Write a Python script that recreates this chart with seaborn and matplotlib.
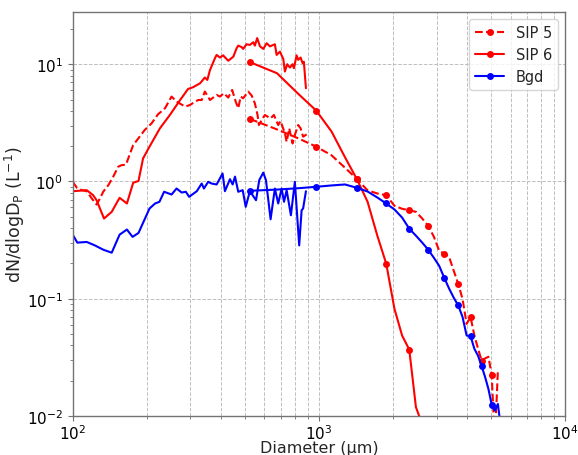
import numpy as np
import matplotlib
matplotlib.use("Agg")
import matplotlib.pyplot as plt
import seaborn as sns

# --- small-probe (2DS) size distributions, no markers ---
d_sip5_small = [100, 104, 109, 114, 119.5, 125, 129, 133, 139.5, 146, 153, 158, 164.5, 171, 176,
                196, 209, 222, 237, 252, 264, 286, 299, 323, 334, 344, 361, 384, 396, 411, 428,
                444, 459, 470, 481, 492, 504, 516, 533, 549, 563, 570, 585, 603, 636, 656, 683,
                698, 727, 739, 757, 781, 798, 823, 842, 862, 891]
n_sip5_small = [0.994, 0.883, 0.843, 0.826, 0.716, 0.636, 0.716, 0.817, 0.93, 1.097, 1.336, 1.378,
                1.39, 1.735, 2.04, 2.745, 3.13, 3.74, 4.21, 5.30, 4.80, 4.35, 4.49, 4.95, 4.95, 5.85,
                4.95, 5.47, 5.30, 5.65, 5.19, 6.03, 4.80, 4.21, 5.30, 5.12, 5.47, 5.85, 5.40, 4.64,
                3.69, 3.03, 3.34, 3.69, 3.45, 3.69, 3.03, 3.28, 2.57, 2.18, 2.84, 2.11, 2.49, 3.03,
                2.84, 2.41, 2.52]

d_sip6_small = [100, 114, 121, 125, 134, 144, 155, 166, 176, 185, 193, 203, 226, 248, 273, 294, 308,
                329, 344, 352, 361, 378, 384, 396, 408, 428, 449, 463, 470, 485, 492, 508, 524, 541,
                549, 561, 576, 594, 613, 632, 662, 673, 694, 716, 727, 743, 762, 781, 791, 811, 823,
                842, 858, 868, 885]
n_sip6_small = [0.826, 0.843, 0.764, 0.692, 0.483, 0.551, 0.726, 0.649, 0.975, 1.01, 1.57, 1.91,
                2.84, 3.69, 4.95, 6.15, 6.36, 6.88, 7.70, 7.34, 8.94, 11.25, 12.0, 11.4, 11.9, 10.7,
                11.6, 13.7, 14.4, 14.0, 13.5, 14.8, 14.6, 15.4, 14.4, 16.7, 14.2, 13.5, 15.1, 14.2,
                14.8, 12.0, 12.8, 11.1, 8.66, 10.0, 9.37, 10.0, 9.24, 11.9, 10.9, 11.4, 10.2, 10.5,
                6.24]

d_bgd_small = [100, 104.4, 114, 123, 133, 144, 155, 166, 175, 185, 205, 216, 225, 235, 252, 264,
               277, 288, 297, 319, 334, 341, 355, 366, 384, 406, 415, 435, 446, 456, 470, 490, 504,
               524, 555, 572, 594, 609, 636, 662, 683, 705, 721, 739, 769, 798, 831, 850, 862, 885]
n_bgd_small = [0.352, 0.301, 0.305, 0.285, 0.262, 0.247, 0.352, 0.389, 0.337, 0.364, 0.588, 0.649,
               0.671, 0.817, 0.774, 0.871, 0.805, 0.817, 0.74, 0.826, 0.961, 0.871, 0.994, 0.961,
               0.943, 1.17, 0.826, 1.046, 0.943, 1.10, 0.817, 0.843, 0.608, 0.826, 0.692, 1.026,
               1.19, 1.026, 0.476, 0.871, 0.649, 0.871, 0.671, 0.843, 0.515, 0.994, 0.285, 0.568,
               0.588, 0.826]

# --- large-probe (HVPS) size distributions, 150 um bins, marked every 3rd bin ---
d_sip5_large = [525, 675, 825, 975, 1125, 1275, 1425, 1575, 1725, 1875, 2025, 2175, 2325, 2475,
                2625, 2775, 2925, 3075, 3225, 3375, 3525, 3675, 3825, 3975, 4125, 4275, 4425, 4575,
                4725, 4875, 5025, 5175, 5325]
n_sip5_large = [3.41, 2.78, 2.33, 1.98, 1.67, 1.31, 1.05, 0.84, 0.79, 0.764, 0.62, 0.585, 0.568,
                0.551, 0.483, 0.418, 0.339, 0.257, 0.2425, 0.227, 0.173, 0.134, 0.10, 0.061, 0.0698,
                0.0486, 0.0374, 0.0297, 0.031, 0.032, 0.0224, 0.006, 0.0244]

d_sip6_large = [525, 675, 825, 975, 1125, 1275, 1425, 1575, 1725, 1875, 2025, 2175, 2325, 2475, 2625]
n_sip6_large = [10.4, 8.38, 5.57, 4.02, 2.66, 1.61, 1.046, 0.671, 0.345, 0.199, 0.082, 0.0485,
                0.0369, 0.0119, 0.0085]

d_bgd_large = [525, 675, 825, 975, 1125, 1275, 1425, 1575, 1725, 1875, 2025, 2175, 2325, 2475,
               2625, 2775, 2925, 3075, 3225, 3375, 3525, 3675, 3825, 3975, 4125, 4275, 4425, 4575,
               4725, 4875, 5025, 5175, 5325, 5475]
n_bgd_large = [0.833, 0.853, 0.876, 0.901, 0.925, 0.943, 0.883, 0.821, 0.73, 0.649, 0.577, 0.492,
               0.396, 0.345, 0.301, 0.262, 0.224, 0.191, 0.151, 0.122, 0.102, 0.0877, 0.0702,
               0.0486, 0.048, 0.0374, 0.0326, 0.0266, 0.0215, 0.017, 0.0125, 0.0111, 0.01266, 0.008]

sns.set_style("ticks")
plt.rcParams["font.family"] = ["DejaVu Sans"]

fig, ax = plt.subplots(figsize=(5.78, 4.56), dpi=100)
fig.subplots_adjust(left=0.1258, right=0.978, bottom=0.0855, top=0.972)

lw = 1.5
# small probe curves
sns.lineplot(x=d_sip5_small, y=n_sip5_small, color="red", linestyle="--", lw=lw,
             estimator=None, sort=False, ax=ax)
sns.lineplot(x=d_sip6_small, y=n_sip6_small, color="red", lw=lw,
             estimator=None, sort=False, ax=ax)
sns.lineplot(x=d_bgd_small, y=n_bgd_small, color="blue", lw=lw,
             estimator=None, sort=False, ax=ax)

# large probe curves (with markers)
mk = dict(marker="o", markersize=5, markevery=3, markeredgewidth=0, estimator=None, sort=False)
sns.lineplot(x=d_sip5_large, y=n_sip5_large, color="red", linestyle="--", lw=lw,
             markeredgecolor="red", label="SIP 5", ax=ax, **mk)
sns.lineplot(x=d_sip6_large, y=n_sip6_large, color="red", lw=lw,
             markeredgecolor="red", label="SIP 6", ax=ax, **mk)
sns.lineplot(x=d_bgd_large, y=n_bgd_large, color="blue", lw=lw,
             markeredgecolor="blue", label="Bgd", ax=ax, **mk)

ax.set_xscale("log")
ax.set_yscale("log")
ax.set_xlim(100, 10000)
ax.set_ylim(0.01, 28)

# grid: majors on both axes, minors only along x
ax.grid(True, which="major", linestyle="--", color="0.75", linewidth=0.7)
ax.xaxis.grid(True, which="minor", linestyle="--", color="0.75", linewidth=0.7)
ax.set_axisbelow(True)
for s in ax.spines.values():
    s.set_color("0.45")
    s.set_linewidth(1.0)
ax.tick_params(which="both", colors="0.45", labelcolor="black", labelsize=11)
ax.tick_params(axis="x", pad=1.5)
ax.tick_params(which="major", length=3.5)
ax.tick_params(which="minor", length=2.5)

ax.set_xlabel("Diameter (µm)", fontsize=11.5, labelpad=-1)
ax.set_ylabel(r"dN/dlogD$_\mathrm{P}$ (L$^{-1}$)", fontsize=12.5, labelpad=0)

ax.legend(loc="upper right", fontsize=10.5, frameon=True)

fig.savefig("out.png", dpi=100)
